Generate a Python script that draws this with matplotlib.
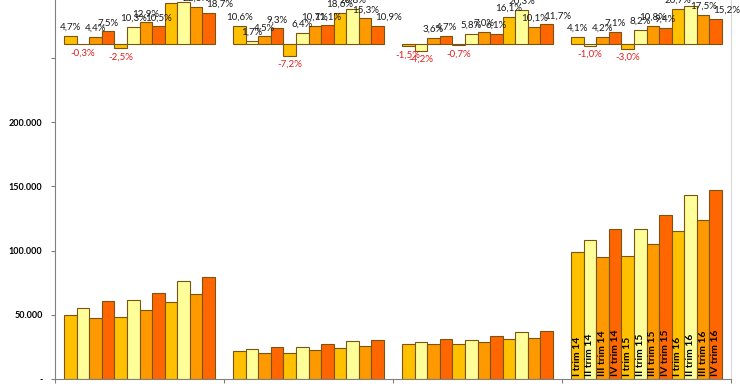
import numpy as np
import matplotlib
matplotlib.use('Agg')
import matplotlib.pyplot as plt
from matplotlib.ticker import FuncFormatter

plt.rcParams['font.family'] = ['Lato', 'DejaVu Sans']

# quarter labels, same order in every group
quarters = ['I trim 14', 'II trim 14', 'III trim 14', 'IV trim 14',
            'I trim 15', 'II trim 15', 'III trim 15', 'IV trim 15',
            'I trim 16', 'II trim 16', 'III trim 16', 'IV trim 16']

# values (main axis) per group
vals_g1 = [49500, 55500, 47700, 60400, 48200, 61200, 53900, 66700, 59900, 76600, 65900, 79200]
vals_g2 = [21900, 23200, 20100, 24800, 20300, 24700, 22300, 27500, 24100, 29800, 25700, 30500]
vals_g3 = [27300, 28800, 27300, 31400, 27000, 30400, 28800, 33300, 31200, 36600, 32000, 37200]
vals_g4 = [98800, 107900, 94900, 116700, 95700, 116700, 105300, 127900, 115400, 143500, 123700, 147100]

# yoy growth in % (top bars)
pct_g1 = [4.7, -0.3, 4.4, 7.5, -2.5, 10.3, 12.9, 10.5, 24.3, 25.2, 22.3, 18.7]
pct_g2 = [10.6, 1.7, 4.5, 9.3, -7.2, 6.4, 10.7, 11.1, 18.6, 20.8, 15.3, 10.9]
pct_g3 = [-1.5, -4.2, 3.6, 4.7, -0.7, 5.8, 7.0, 6.1, 16.1, 20.3, 10.1, 11.7]
pct_g4 = [4.1, -1.0, 4.2, 7.1, -3.0, 8.2, 10.8, 9.4, 20.7, 23.0, 17.5, 15.2]

groups_vals = [vals_g1, vals_g2, vals_g3, vals_g4]
groups_pct = [pct_g1, pct_g2, pct_g3, pct_g4]

colors = ['#FFC000', '#FFFF99', '#FF9900', '#FF6600']
edge = '#7a5410'

fig = plt.figure(figsize=(7.4, 3.89), dpi=100)
ax = fig.add_axes([55/740, 10/389, (731-55)/740, 379/389])
ax2 = ax.twinx()

n = len(quarters)
pad = 9/169          # gap on each side of a group
w = (1 - 2*pad) / n  # bar width

for g in range(4):
    for i in range(n):
        x = g + pad + (i + 0.5) * w
        c = colors[i % 4]
        ax.bar(x, groups_vals[g][i], width=w, color=c, edgecolor=edge, linewidth=0.8)
        p = groups_pct[g][i]
        ax2.bar(x, p, width=w, color=c, edgecolor=edge, linewidth=0.8)
        txt = f"{p:.1f}%".replace('.', ',')
        dx = 8 if i == n - 1 else 0   # last label sits a bit to the right
        if p >= 0:
            ax2.annotate(txt, (x, p), xytext=(dx, 3), textcoords='offset points',
                         ha='center', va='bottom', fontsize=7, color='#1a1a1a')
        else:
            ax2.annotate(txt, (x, p), xytext=(dx, -3), textcoords='offset points',
                         ha='center', va='top', fontsize=7, color='#e02020')
        if g == 3:
            ax.annotate(quarters[i], (x, 0), xytext=(0, 2), textcoords='offset points',
                        rotation=90, ha='center', va='bottom', fontsize=7.5,
                        fontweight='bold', color='black')

ax.set_xlim(0, 4)
ax.set_ylim(0, 295100)
ax2.set_ylim(-200.6, 26.3)

ax.set_yticks([0, 50000, 100000, 150000, 200000, 250000])
def fmt(v, pos):
    if v == 0:
        return '-'
    if v > 200000:
        return ''
    return f"{int(v):,}".replace(',', '.')
ax.yaxis.set_major_formatter(FuncFormatter(fmt))
ax.tick_params(axis='y', length=3, color='#808080', labelsize=6.5, pad=6)
for lab in ax.get_yticklabels():
    lab.set_fontweight('bold')

ax.set_xticks([0, 1, 2, 3, 4])
ax.set_xticklabels([])
ax.tick_params(axis='x', length=3, color='#808080')

ax.spines['left'].set_color('#808080')
ax.spines['bottom'].set_color('#808080')
ax.spines['top'].set_visible(False)
ax.spines['right'].set_color('#d9d9d9')
for s in ax2.spines.values():
    s.set_visible(False)
ax2.set_yticks([])

fig.savefig('out.png', dpi=100)
